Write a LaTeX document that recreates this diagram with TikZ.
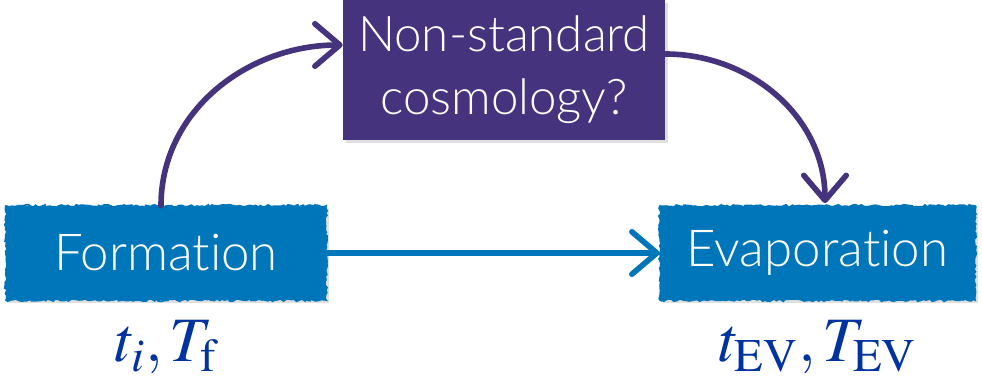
\documentclass[tikz,border=0pt]{standalone}
\usepackage{mathptmx}
\usepackage{fontspec}
\setmainfont{Lato Light}[Ligatures=NoCommon]
\usetikzlibrary{arrows.meta, positioning, shadows, decorations.pathmorphing}

\definecolor{boxblue}{RGB}{0,118,186}
\definecolor{boxpurple}{RGB}{70,51,126}
\definecolor{labelblue}{RGB}{0,50,160}

\begin{document}
\begin{tikzpicture}[node distance=0.1cm]
        \tikzstyle{stage} = [rectangle, minimum width=6.4cm, minimum height=1.88cm, text centered, align=center, fill=boxblue, text=white, font=\fontsize{29}{35}\selectfont, drop shadow={opacity=0.25, shadow xshift=0.05cm, shadow yshift=-0.05cm}, postaction={draw=boxblue, line width=1pt, decorate, decoration={random steps, segment length=1.5pt, amplitude=0.7pt}}]
        \tikzstyle{question} = [rectangle, minimum width=6.44cm, minimum height=2.8cm, text centered, align=center, fill=boxpurple, text=white, font=\fontsize{28}{36}\selectfont, drop shadow={opacity=0.25, shadow xshift=0.05cm, shadow yshift=-0.05cm}]
        \tikzstyle{quantity} = [text=labelblue, font=\fontsize{36}{40}\selectfont, inner sep=0pt]
        \tikzstyle{arrow} = [line width=3.2pt, line cap=round, -{Straight Barb[length=0.5cm, width=0.85cm, round]}]

        \useasboundingbox (0,0) rectangle (19.64,7.58);

        \node (form) [stage] at (3.32,2.52) {Formation};
        \node (evap) [stage, minimum width=6.3cm] at (16.35,2.52) {Evaporation};
        \node (cosmo) [question] at (10.08,6.18) {Non-standard\\cosmology?};
        \node (formlab) [quantity, below=0.4cm of form] {$t_i, T_{\mathrm{f}}$};
        \node (evaplab) [quantity, below=0.4cm of evap] {$t_{\mathrm{EV}}, T_{\mathrm{EV}}$};

        \draw [arrow, boxpurple] ([xshift=-0.1cm]form.north) to[out=90, in=180] ([yshift=0.5cm]cosmo.west);
        \draw [arrow, boxpurple] ([yshift=0.32cm]cosmo.east) to[out=0, in=90] ([xshift=0.15cm,yshift=0.05cm]evap.north);
        \draw [arrow, boxblue] (form.east) -- (evap.west);
    \end{tikzpicture}
\end{document}
